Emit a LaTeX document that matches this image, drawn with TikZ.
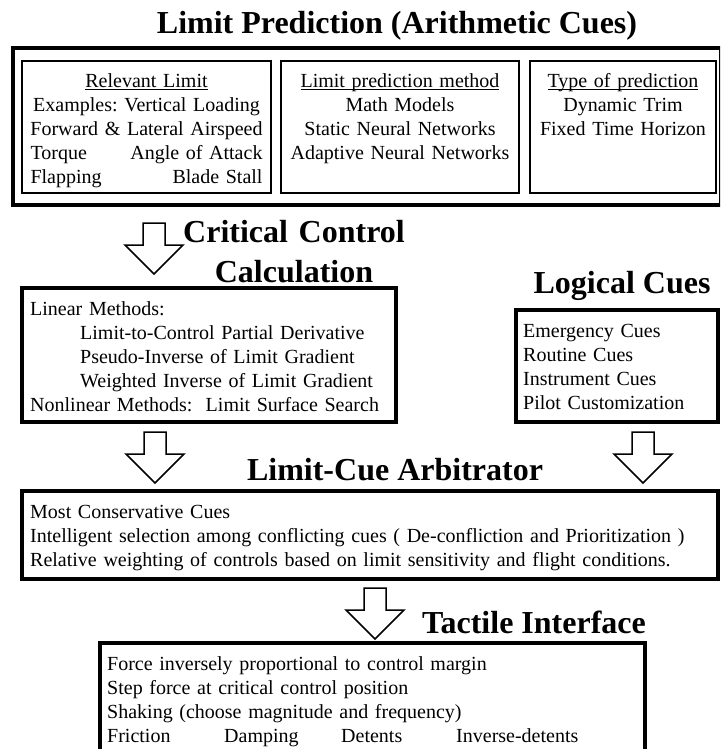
\documentclass[tikz,border=0pt]{standalone}
\usepackage{fontspec}
\setmainfont{Liberation Serif}
\usetikzlibrary{positioning,calc}
\frenchspacing

\newcommand{\uln}[1]{\setbox0\hbox{#1}\rlap{\rule[-2.5pt]{\wd0}{1pt}}\box0}
\newcommand{\blockdown}[1]{\draw[hollow] (#1) ++(-11,0) -- ++(22,0) -- ++(0,22) -- ++(18,0) -- ++(-29,29) -- ++(-29,-29) -- ++(18,0) -- cycle;}

\begin{document}
\begin{tikzpicture}[x=1pt, y=-1pt,
  heading/.style={font=\fontsize{32}{40}\selectfont\bfseries, inner sep=0pt, anchor=base},
  body/.style={font=\fontsize{20}{24}\selectfont\frenchspacing, inner sep=0pt, anchor=base west, align=left},
  thinbox/.style={draw, line width=1.5pt, anchor=north west, inner sep=0pt, outer sep=0pt},
  thickbox/.style={draw, line width=3.5pt, anchor=north west, inner sep=0pt, outer sep=0pt},
  hollow/.style={draw, line width=1.5pt, fill=white, line join=miter},
]
\useasboundingbox (0,0) rectangle (720,749);
\clip (0,0) rectangle (720,749);

\node[heading] (predhead) at (397,34) {Limit Prediction (Arithmetic Cues)};
\node[thickbox, line width=4pt, minimum width=708pt, minimum height=157pt] (pred) at (13,48) {};
\node[thinbox, minimum width=249pt, minimum height=132pt] (rel) at (22,61) {};
\node[thinbox, minimum width=238pt, minimum height=132pt] (meth) at (281,61) {};
\node[thinbox, minimum width=186pt, minimum height=132pt] (typ) at (530,61) {};
\node[body, anchor=base, align=center, text width=246pt] (reltxt) at ([shift={(0,27)}]rel.north)
  {\uln{Relevant Limit}\\Examples: Vertical Loading\\Forward \& Lateral Airspeed\\\makebox[232pt]{Torque\hfill Angle of Attack}\\\makebox[232pt]{Flapping\hfill Blade Stall}};
\node[body, anchor=base, align=center, text width=236pt] (methtxt) at ([shift={(0,27)}]meth.north)
  {\uln{Limit prediction method}\\Math Models\\Static Neural Networks\\Adaptive Neural Networks};
\node[body, anchor=base, align=center, text width=184pt] (typtxt) at ([shift={(0,27)}]typ.north)
  {\uln{Type of prediction}\\Dynamic Trim\\Fixed Time Horizon};

\coordinate (a1) at (154,223);
\blockdown{a1}
\node[heading, align=center, text width=240pt] (crithead) at (294,242) {Critical Control\\Calculation};
\node[thickbox, minimum width=374pt, minimum height=134pt] (crit) at (22,288) {};
\node[body, text width=360pt] (crittxt) at ([shift={(8,27)}]crit.north west)
  {Linear Methods:\\\hspace*{50pt}Limit-to-Control Partial Derivative\\\hspace*{50pt}Pseudo-Inverse of Limit Gradient\\\hspace*{50pt}Weighted Inverse of Limit Gradient\\Nonlinear Methods:\ \ Limit Surface Search};

\node[heading] (loghead) at (622,293) {Logical Cues};
\node[thickbox, minimum width=202pt, minimum height=112pt] (logic) at (516,310) {};
\node[body, text width=190pt] (logtxt) at ([shift={(7,27)}]logic.north west)
  {Emergency Cues\\Routine Cues\\Instrument Cues\\Pilot Customization};

\coordinate (a2) at (155,432);
\coordinate (a3) at (643,432);
\blockdown{a2}
\blockdown{a3}
\node[heading] (arbhead) at (395,480) {Limit-Cue Arbitrator};
\node[thickbox, minimum width=696pt, minimum height=88pt] (arb) at (22,491) {};
\node[body, text width=680pt] (arbtxt) at ([shift={(8,27)}]arb.north west)
  {Most Conservative Cues\\Intelligent selection among conflicting cues ( De-confliction and Prioritization )\\Relative weighting of controls based on limit sensitivity and flight conditions.};

\coordinate (a4) at (375,588);
\blockdown{a4}
\node[heading] (tachead) at (534,633) {Tactile Interface};
\node[thickbox, minimum width=545pt, minimum height=112pt] (tac) at (100,643) {};
\node[body, text width=530pt] (tactxt) at ([shift={(7,27)}]tac.north west)
  {Force inversely proportional to control margin\\Step force at critical control position\\Shaking (choose magnitude and frequency)\\\makebox[117pt][l]{Friction}\makebox[117pt][l]{Damping}\makebox[115pt][l]{Detents}Inverse-detents};
\end{tikzpicture}
\end{document}
